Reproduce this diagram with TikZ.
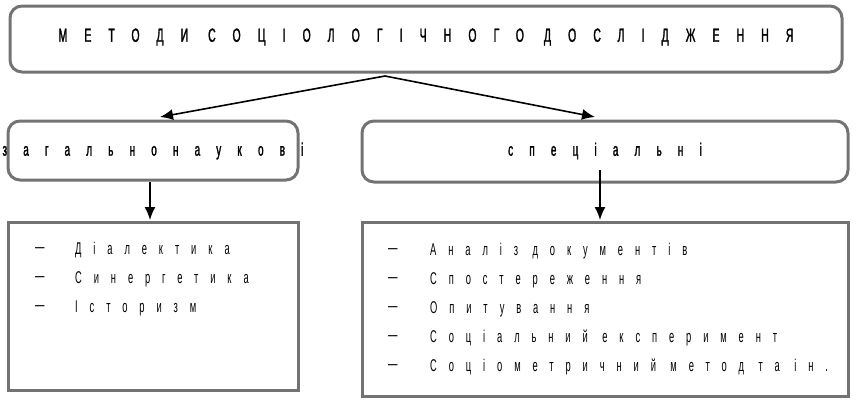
\documentclass[tikz,border=0pt]{standalone}
\usetikzlibrary{arrows.meta}
\usepackage{fontspec}
\setmainfont{Liberation Sans}
\newfontfamily\cond[FakeStretch=0.55,LetterSpace=70]{Liberation Sans}
\newfontfamily\condb[FakeStretch=0.55,LetterSpace=90,FakeBold=1.5]{Liberation Sans}
\begin{document}
\begin{tikzpicture}[x=1pt,y=-1pt,
  box/.style={draw=gray!90!black,line width=3pt},
  rbox/.style={box,rounded corners=12pt},
  arr/.style={-{Latex[length=13pt,width=11pt]},line width=1.6pt},
  item/.style={anchor=west,font=\cond\fontsize{17}{17}\selectfont,inner sep=0pt},
  dashmark/.style={anchor=west,font=\fontsize{17}{17}\selectfont,inner sep=0pt}]
\useasboundingbox (0,0) rectangle (856,400);
\draw[rbox] (10,6) rectangle (842,72);
\node (title) at (426,37) {\condb\fontsize{19}{19}\selectfont МЕТОДИ СОЦІОЛОГІЧНОГО ДОСЛІДЖЕННЯ};
\coordinate (top) at (385,76);
\draw[rbox] (8,121) rectangle (298,180);
\node (gen) at (153,151) {\condb\fontsize{18}{18}\selectfont загальнонаукові};
\draw[rbox] (362,121) rectangle (848,182);
\node (spec) at (605,151) {\condb\fontsize{18}{18}\selectfont спеціальні};
\coordinate (ga) at (160,117);
\coordinate (sa) at (595,117);
\draw[arr] (top) -- (ga);
\draw[arr] (top) -- (sa);
\draw[box] (8,222) rectangle (298,390);
\draw[box] (362,222) rectangle (848,396);
\coordinate (gb) at (150,182); \coordinate (gbe) at (150,220);
\coordinate (sb) at (600,170); \coordinate (sbe) at (600,220);
\draw[arr] (gb) -- (gbe);
\draw[arr] (sb) -- (sbe);
\foreach \t [count=\i] in {Діалектика,Синергетика,Історизм}{
  \node[dashmark] (gd\i) at (35,221+\i*29) {–};
  \node[item] (gi\i) at (75,221+\i*29) {\t};
}
\foreach \t [count=\i] in {Аналіз документів,Спостереження,Опитування,Соціальний експеримент,Соціометричний метод та ін.}{
  \node[dashmark] (sd\i) at (388,222+\i*29) {–};
  \node[item] (si\i) at (430,222+\i*29) {\t};
}
\end{tikzpicture}
\end{document}
